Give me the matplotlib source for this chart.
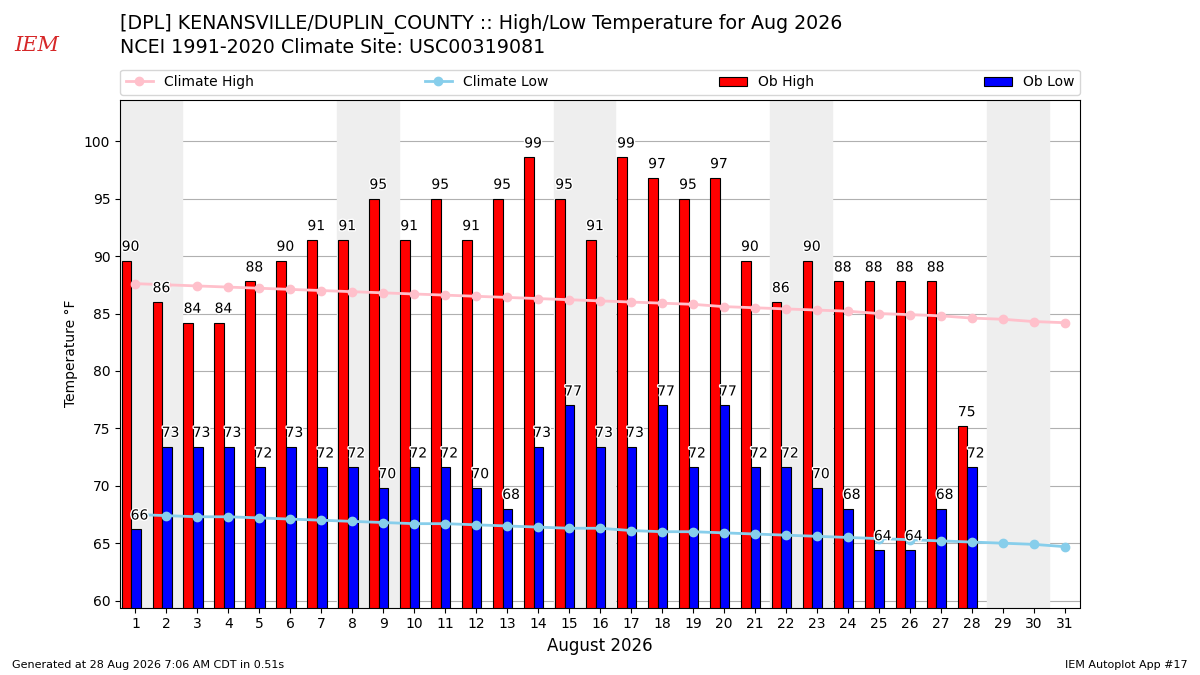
import matplotlib
matplotlib.use("Agg")
import matplotlib.pyplot as plt
import matplotlib.patheffects as PathEffects
import numpy as np

# observed data, Aug 2026 (degF)
days = np.arange(1, 29)
ob_high = [89.6, 86.0, 84.2, 84.2, 87.8, 89.6, 91.4, 91.4, 95.0, 91.4,
           95.0, 91.4, 95.0, 98.6, 95.0, 91.4, 98.6, 96.8, 95.0, 96.8,
           89.6, 86.0, 89.6, 87.8, 87.8, 87.8, 87.8, 75.2]
ob_low = [66.2, 73.4, 73.4, 73.4, 71.6, 73.4, 71.6, 71.6, 69.8, 71.6,
          71.6, 69.8, 68.0, 73.4, 77.0, 73.4, 73.4, 77.0, 71.6, 77.0,
          71.6, 71.6, 69.8, 68.0, 64.4, 64.4, 68.0, 71.6]

# NCEI 1991-2020 climatology
clim_days = np.arange(1, 32)
clim_high = [87.6, 87.5, 87.4, 87.3, 87.2, 87.1, 87.0, 86.9, 86.8, 86.7,
             86.6, 86.5, 86.4, 86.3, 86.2, 86.1, 86.0, 85.9, 85.8, 85.6,
             85.5, 85.4, 85.3, 85.2, 85.0, 84.9, 84.8, 84.6, 84.5, 84.3,
             84.2]
clim_low = [67.5, 67.4, 67.3, 67.3, 67.2, 67.1, 67.0, 66.9, 66.8, 66.7,
            66.7, 66.6, 66.5, 66.4, 66.3, 66.3, 66.1, 66.0, 66.0, 65.9,
            65.8, 65.7, 65.6, 65.5, 65.4, 65.3, 65.2, 65.1, 65.0, 64.9,
            64.7]

weekend_starts = [1, 8, 15, 22, 29]

fig = plt.figure(figsize=(12, 6.75), dpi=100)
ax = fig.add_axes([0.1, 0.1, 0.8, 0.752])

for d in weekend_starts:
    ax.axvspan(d - 0.5, d + 1.5, color="#EEEEEE", zorder=1)

ax.bar(days - 0.45, ob_high, width=0.31, align="edge", fc="r",
       ec="k", lw=0.8, label="Ob High", zorder=2)
ax.bar(days - 0.14, ob_low, width=0.31, align="edge", fc="b",
       ec="k", lw=0.8, label="Ob Low", zorder=2)

ax.plot(clim_days, clim_high, color="pink", marker="o", ms=6, lw=2,
        label="Climate High", zorder=3)
ax.plot(clim_days, clim_low, color="skyblue", marker="o", ms=6, lw=2,
        label="Climate Low", zorder=3)

stroke = [PathEffects.withStroke(linewidth=2, foreground="w")]
for d, hi, lo in zip(days, ob_high, ob_low):
    ax.text(d - 0.16, hi + 0.6, f"{hi:.0f}", ha="center", va="bottom",
            path_effects=stroke, zorder=4)
    ax.text(d + 0.13, lo + 0.6, f"{lo:.0f}", ha="center", va="bottom",
            path_effects=stroke, zorder=4)

ax.set_xlim(0.5, 31.5)
ax.set_ylim(min(ob_low) - 5, max(ob_high) + 5)
ax.set_xticks(clim_days)
ax.set_yticks(np.arange(60, 101, 5))
ax.grid(axis="y", color="#b0b0b0", zorder=0)
ax.set_axisbelow(True)
ax.set_ylabel("Temperature °F")
ax.set_xlabel("August 2026", fontsize=12)

handles, labels = ax.get_legend_handles_labels()
ax.legend(handles, labels,
          loc="lower left", bbox_to_anchor=(0, 1.01, 1, 0.05),
          mode="expand", ncol=4, borderaxespad=0)

fig.text(0.1, 0.964, "[DPL] KENANSVILLE/DUPLIN_COUNTY :: High/Low Temperature for Aug 2026",
         fontsize=13.7, va="center")
fig.text(0.1, 0.930, "NCEI 1991-2020 Climate Site: USC00319081",
         fontsize=13.7, va="center")

# logo stand-in
fig.text(0.031, 0.932, "IEM", color="#d62728", fontsize=15, style="italic",
         family="serif", ha="center", va="center")

fig.text(0.01, 0.01, "Generated at 28 Aug 2026 7:06 AM CDT in 0.51s",
         fontsize=8)
fig.text(0.99, 0.01, "IEM Autoplot App #17", fontsize=8, ha="right")

plt.savefig("out.png")
